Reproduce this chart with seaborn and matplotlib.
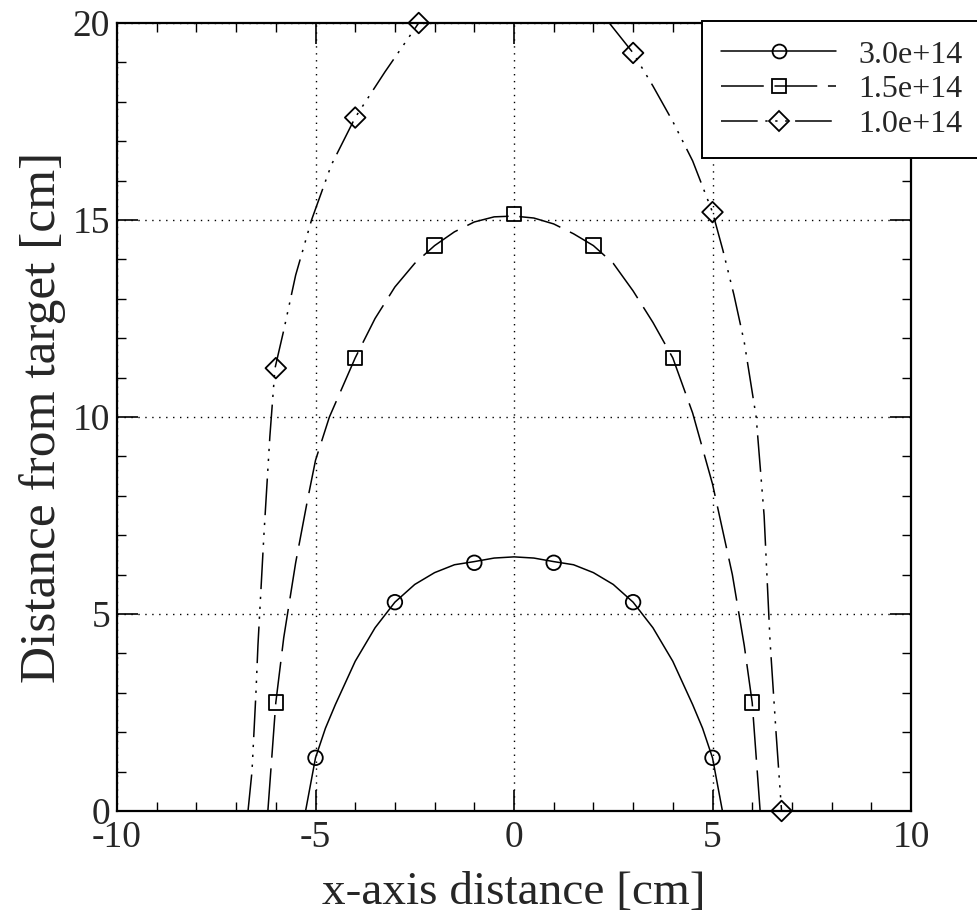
import numpy as np
import pandas as pd
import matplotlib
matplotlib.use("Agg")
import matplotlib.pyplot as plt
from matplotlib.lines import Line2D
from matplotlib.ticker import MultipleLocator, FixedLocator
import seaborn as sns

# ---------------- data ----------------
series_labels = ["3.0e+14", "1.5e+14", "1.0e+14"]

# marker points
s1_mx = [-5.0, -3.0, -1.0, 1.0, 3.0, 5.0]
s1_my = [1.35, 5.3, 6.3, 6.3, 5.3, 1.35]
s2_mx = [-6.0, -4.0, -2.0, 0.0, 2.0, 4.0, 6.0]
s2_my = [2.75, 11.5, 14.35, 15.15, 14.35, 11.5, 2.75]
s3_mx = [-6.0, -4.0, -2.4, 3.0, 5.0, 6.74]
s3_my = [11.24, 17.6, 20.0, 19.24, 15.2, 0.0]

# fitted curves
s1_cx = [-5.25, -5.0, -4.75, -4.5, -4.0, -3.5, -3.0, -2.5, -2.0, -1.5, -1.0, -0.5, 0.0,
         0.5, 1.0, 1.5, 2.0, 2.5, 3.0, 3.5, 4.0, 4.5, 4.75, 5.0, 5.25]
s1_cy = [0.0, 1.35, 2.1, 2.7, 3.8, 4.65, 5.3, 5.75, 6.05, 6.25, 6.33, 6.42, 6.45,
         6.42, 6.33, 6.25, 6.05, 5.75, 5.3, 4.65, 3.8, 2.7, 2.1, 1.35, 0.0]

s2_cx = [-6.2, -6.0, -5.8, -5.5, -5.2, -5.0, -4.65, -4.0, -3.5, -3.0, -2.5, -2.0, -1.5,
         -1.0, -0.5, 0.0, 0.5, 1.0, 1.5, 2.0, 2.5, 3.0, 3.5, 4.0, 4.5, 5.0, 5.5, 5.8, 6.0, 6.2]
s2_cy = [0.0, 2.75, 4.4, 6.3, 7.9, 8.9, 10.0, 11.5, 12.5, 13.3, 13.9, 14.35, 14.7,
         14.95, 15.08, 15.1, 15.05, 14.9, 14.65, 14.35, 13.9, 13.2, 12.4, 11.5, 10.1, 8.3, 6.0, 4.2, 2.75, 0.0]

s3_left_cx = [-6.7, -6.6, -6.5, -6.45, -6.3, -6.15, -6.02, -5.8, -5.5, -5.1, -4.6, -4.0, -3.25, -2.4]
s3_left_cy = [0.0, 1.0, 3.0, 4.2, 7.0, 9.5, 11.24, 12.2, 13.6, 15.0, 16.4, 17.6, 18.76, 20.0]
s3_right_cx = [2.4, 3.0, 3.5, 4.0, 4.5, 5.0, 5.26, 5.54, 5.8, 6.1, 6.3, 6.45, 6.6, 6.74]
s3_right_cy = [20.0, 19.24, 18.4, 17.5, 16.5, 15.2, 14.24, 13.1, 11.9, 10.0, 7.5, 4.3, 2.0, 0.0]

x_ticks = [-10, -5, 0, 5, 10]
y_ticks = [0, 5, 10, 15, 20]
x_ticklabels = ["-10", "-5", "0", "5", "10"]
y_ticklabels = ["0", "5", "10", "15", "20"]

# ---------------- tables ----------------
curves = pd.concat([
    pd.DataFrame({"x": s1_cx, "y": s1_cy, "series": series_labels[0], "seg": "a"}),
    pd.DataFrame({"x": s2_cx, "y": s2_cy, "series": series_labels[1], "seg": "b"}),
    pd.DataFrame({"x": s3_left_cx, "y": s3_left_cy, "series": series_labels[2], "seg": "c"}),
    pd.DataFrame({"x": s3_right_cx, "y": s3_right_cy, "series": series_labels[2], "seg": "d"}),
], ignore_index=True)

points = pd.concat([
    pd.DataFrame({"x": s1_mx, "y": s1_my, "series": series_labels[0]}),
    pd.DataFrame({"x": s2_mx, "y": s2_my, "series": series_labels[1]}),
    pd.DataFrame({"x": s3_mx, "y": s3_my, "series": series_labels[2]}),
], ignore_index=True)

dash_map = {series_labels[0]: "",
            series_labels[1]: (28, 7),
            series_labels[2]: (24, 5, 1.5, 5, 1.5, 5, 1.5, 5)}
marker_map = {series_labels[0]: "o", series_labels[1]: "s", series_labels[2]: "D"}

# ---------------- style ----------------
sns.set_theme(style="ticks")
plt.rcParams["font.family"] = ["Liberation Serif", "DejaVu Serif"]
plt.rcParams["axes.unicode_minus"] = False

fig = plt.figure(figsize=(9.77, 9.21), dpi=100)
ax = fig.add_axes([117 / 977, 1 - 811 / 921, (911 - 117) / 977, (811 - 23) / 921])

sns.lineplot(data=curves, x="x", y="y", style="series", units="seg", estimator=None,
             sort=False, dashes=dash_map, color="black", linewidth=1.1,
             legend=False, ax=ax)

sns.scatterplot(data=points, x="x", y="y", style="series", markers=marker_map,
                color="black", s=110, linewidth=1.3, legend=False, ax=ax, clip_on=False, zorder=5)
for coll in ax.collections:
    coll.set_facecolor("none")
    coll.set_edgecolor("black")

ax.set_xlim(-10, 10)
ax.set_ylim(0, 20)
ax.xaxis.set_major_locator(FixedLocator(x_ticks))
ax.yaxis.set_major_locator(FixedLocator(y_ticks))
ax.set_xticklabels(x_ticklabels)
ax.set_yticklabels(y_ticklabels)
ax.xaxis.set_minor_locator(MultipleLocator(1))
ax.yaxis.set_minor_locator(MultipleLocator(1))

ax.tick_params(which="both", direction="in", top=True, right=True, color="black")
ax.tick_params(which="major", length=15, width=1.2)
ax.tick_params(which="minor", length=6.5, width=1.0)
ax.tick_params(axis="x", which="major", labelsize=27, pad=7)
ax.tick_params(axis="y", which="major", labelsize=27, pad=5)

for sp in ax.spines.values():
    sp.set_visible(True)
    sp.set_color("black")
    sp.set_linewidth(1.6)

ax.grid(True, which="major", color="black", linestyle=(0, (1, 4)), linewidth=1.0)

ax.set_xlabel("x-axis distance [cm]", fontsize=34, labelpad=12)
ax.set_ylabel("Distance from target [cm]", fontsize=37, labelpad=5)

handles = []
for lab in series_labels:
    d = dash_map[lab]
    ls = "-" if d == "" else (0, d)
    handles.append(Line2D([0], [0], color="black", linewidth=1.1, linestyle=ls,
                          marker=marker_map[lab], markersize=10, markerfacecolor="none",
                          markeredgecolor="black", markeredgewidth=1.3))
leg = fig.legend(handles, series_labels, loc="upper left",
                 bbox_to_anchor=(702 / 977, 1 - 21 / 921), borderaxespad=0,
                 fontsize=23, handlelength=3.6, handletextpad=0.7, labelspacing=0.17,
                 borderpad=0.6, numpoints=1, frameon=True, fancybox=False)
leg.get_frame().set_edgecolor("black")
leg.get_frame().set_linewidth(1.4)
leg.get_frame().set_facecolor("white")
leg.get_frame().set_alpha(1)

fig.savefig("out.png", dpi=100)
